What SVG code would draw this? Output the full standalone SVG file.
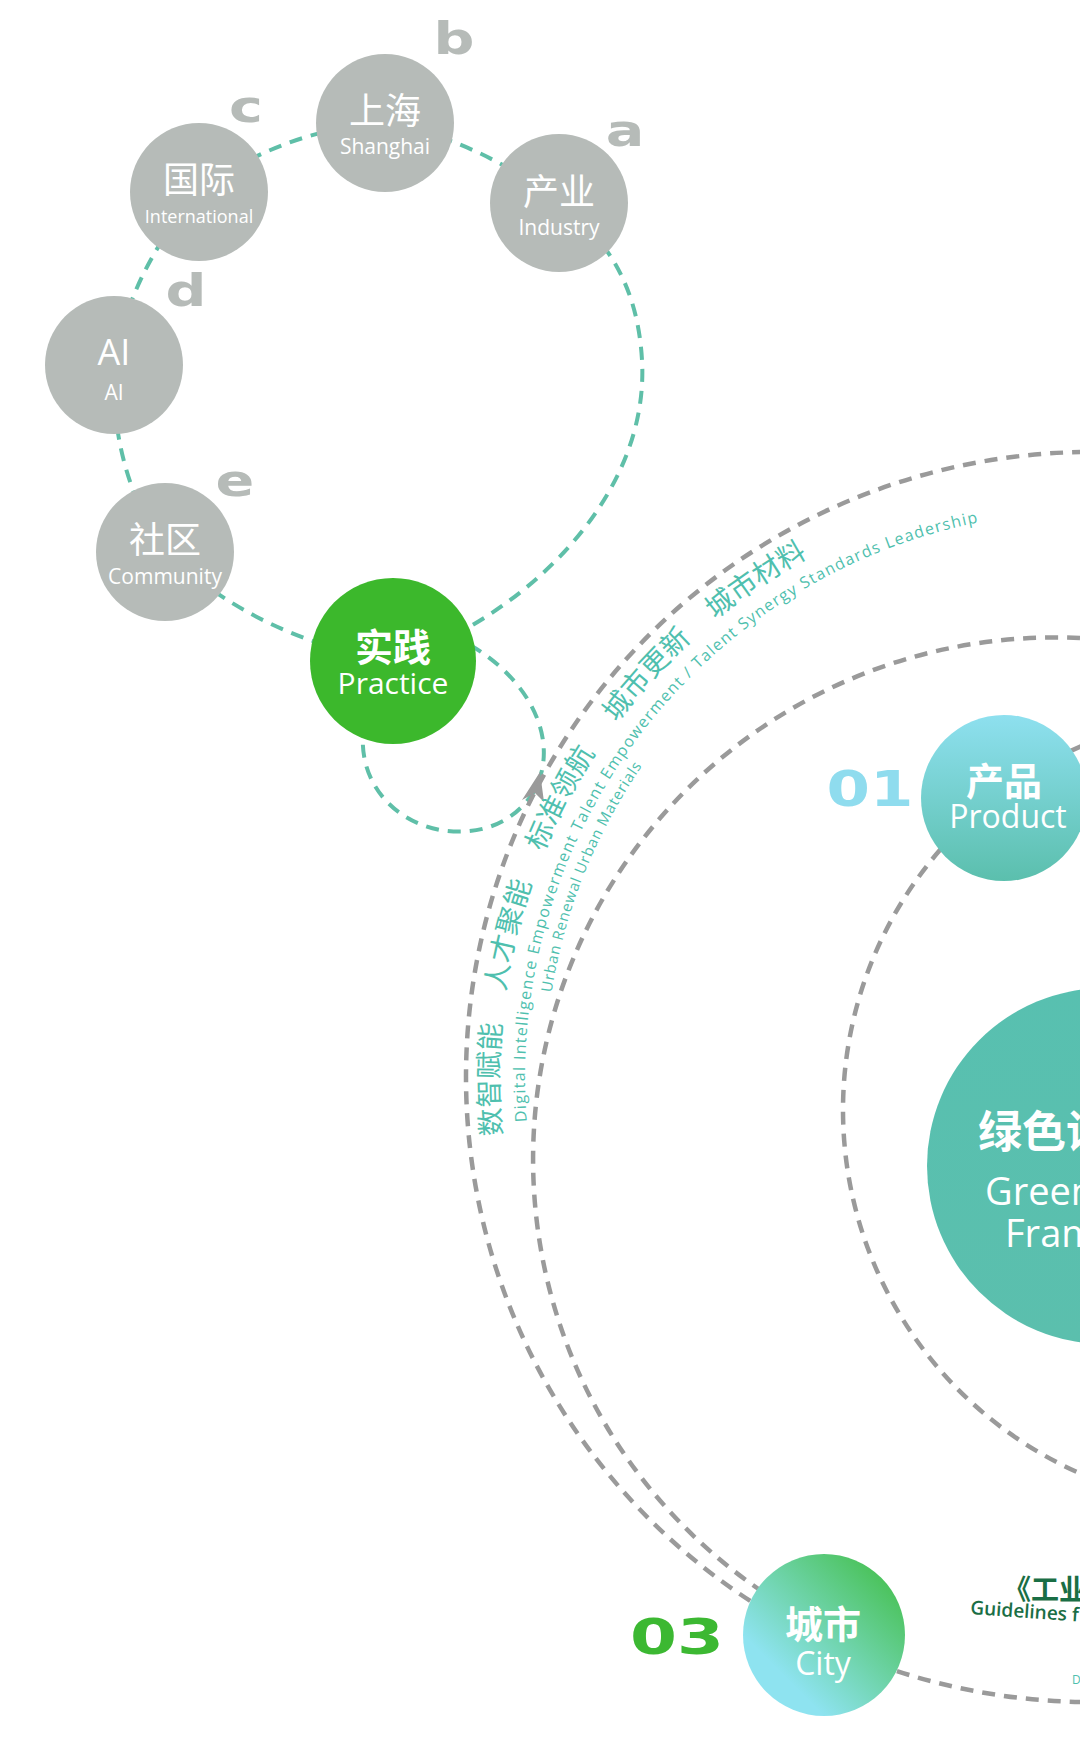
<svg xmlns="http://www.w3.org/2000/svg" width="1080" height="1749" viewBox="0 0 1080 1749">
<defs>
<style>
.gn{fill:#b6bbb8}
.zh{font-family:"Noto Sans CJK SC","Noto Sans",sans-serif;fill:#fff;text-anchor:middle}
.en{font-family:"Open Sans","Noto Sans",sans-serif;fill:#fff;text-anchor:middle}
.lt{font-family:"DejaVu Sans",sans-serif;font-weight:bold;fill:#b6bbb8;font-size:44px;text-anchor:middle}
.td{fill:none;stroke:#5fbfa8;stroke-width:4;stroke-dasharray:13 9}
.gd{fill:none;stroke:#9a9a9a;stroke-width:4.5;stroke-dasharray:13 9}
.arc{fill:#4fbfae}
</style>
<linearGradient id="gP" x1="0" y1="0" x2="0" y2="1"><stop offset="0" stop-color="#8ee0ef"/><stop offset="1" stop-color="#5bbfad"/></linearGradient>
<linearGradient id="gG" x1="0" y1="0" x2="0" y2="1"><stop offset="0" stop-color="#58c0b0"/><stop offset="1" stop-color="#5bbfad"/></linearGradient>
<linearGradient id="gC" x1="1" y1="0" x2="0" y2="1"><stop offset="0" stop-color="#3cbb3a"/><stop offset="0.75" stop-color="#8ee3f0"/><stop offset="1" stop-color="#8ee3f0"/></linearGradient>
<path id="pZh" d="M 1091 1077 m -583.0 102.8 A 592 592 0 0 1 1091 485"/>
<path id="pE1" d="M 1091 1077 m -557.4 98.3 A 566 566 0 0 1 1091 511"/>
<path id="pE2" d="M 1091 1077 m -537.7 94.8 A 546 546 0 0 1 1091 531"/>
</defs>
<rect width="1080" height="1749" fill="#fff"/>
<g id="connectors">
<path class="td" d="M 393 661 C 520 620 650 500 642 360 C 638 290 610 240 559 203 Q 480 140 385 123 Q 280 130 199 192 Q 130 270 114 365 Q 110 470 165 552 Q 260 640 393 661"/>
<path class="td" d="M 470 645 C 530 680 560 740 535 790 C 510 830 470 835 440 830 C 390 820 360 780 363 735"/>
<polygon points="540,772 522,800 535,793 544,802" fill="#9a9a9a"/>
<circle class="gd" cx="1091" cy="1077" r="625"/>
<path class="gd" d="M 1080 638 A 522 522 0 0 0 760 1590"/>
<circle class="gd" cx="1240" cy="1110" r="397"/>
</g>
<g id="arcText">
<text class="arc" font-family="Noto Sans CJK SC,sans-serif" font-size="28" text-anchor="middle"><textPath href="#pZh" startOffset="101">数智赋能</textPath></text>
<text class="arc" font-family="Noto Sans CJK SC,sans-serif" font-size="28" text-anchor="middle"><textPath href="#pZh" startOffset="245">人才聚能</textPath></text>
<text class="arc" font-family="Noto Sans CJK SC,sans-serif" font-size="28" text-anchor="middle"><textPath href="#pZh" startOffset="390">标准领航</textPath></text>
<text class="arc" font-family="Noto Sans CJK SC,sans-serif" font-size="28" text-anchor="middle"><textPath href="#pZh" startOffset="539">城市更新</textPath></text>
<text class="arc" font-family="Noto Sans CJK SC,sans-serif" font-size="28" text-anchor="middle"><textPath href="#pZh" startOffset="682">城市材料</textPath></text>
<text class="arc" font-family="Open Sans,sans-serif" font-size="16"><textPath href="#pE1" startOffset="54" textLength="820" lengthAdjust="spacing">Digital Intelligence Empowerment  Talent Empowerment / Talent Synergy  Standards Leadership</textPath></text>
<text class="arc" font-family="Open Sans,sans-serif" font-size="15"><textPath href="#pE2" startOffset="180" textLength="246" lengthAdjust="spacing">Urban Renewal  Urban Materials</textPath></text>
</g>
<g id="labels">
<text class="lt" x="454" y="54" transform="translate(454 0) scale(1.3 1) translate(-454 0)">b</text>
<text class="lt" x="625" y="146" transform="translate(625 0) scale(1.3 1) translate(-625 0)">a</text>
<text class="lt" x="246" y="122" transform="translate(246 0) scale(1.3 1) translate(-246 0)">c</text>
<text class="lt" x="186" y="306" transform="translate(186 0) scale(1.3 1) translate(-186 0)">d</text>
<text class="lt" x="235" y="496" transform="translate(235 0) scale(1.3 1) translate(-235 0)">e</text>
</g>
<g id="shanghai"><circle class="gn" cx="385" cy="123" r="69"/><text class="zh" x="385" y="124" font-size="36">上海</text><text class="en" x="385" y="154" font-size="21">Shanghai</text></g>
<g id="industry"><circle class="gn" cx="559" cy="203" r="69"/><text class="zh" x="559" y="205" font-size="36">产业</text><text class="en" x="559" y="235" font-size="21">Industry</text></g>
<g id="international"><circle class="gn" cx="199" cy="192" r="69"/><text class="zh" x="199" y="193" font-size="36">国际</text><text class="en" x="199" y="223" font-size="18">International</text></g>
<g id="ai"><circle class="gn" cx="114" cy="365" r="69"/><text class="en" x="114" y="365" font-size="36">AI</text><text class="en" x="114" y="400" font-size="21">AI</text></g>
<g id="community"><circle class="gn" cx="165" cy="552" r="69"/><text class="zh" x="165" y="553" font-size="36">社区</text><text class="en" x="165" y="584" font-size="21">Community</text></g>
<g id="practice"><circle cx="393" cy="661" r="83" fill="#3cb82c"/><text class="zh" x="393" y="661" font-size="38" font-weight="bold">实践</text><text class="en" x="393" y="694" font-size="30">Practice</text></g>
<g id="product"><circle cx="1004" cy="798" r="83" fill="url(#gP)"/><text x="870" y="806" font-family="DejaVu Sans,sans-serif" font-weight="bold" font-size="50" fill="#8fdcee" text-anchor="middle" transform="translate(870 0) scale(1.25 1) translate(-870 0)">01</text><text class="zh" x="1004" y="795" font-size="38" font-weight="bold">产品</text><text class="en" x="1008" y="828" font-size="32">Product</text></g>
<g id="green"><circle cx="1105" cy="1166" r="178" fill="url(#gG)"/><text class="zh" x="978" y="1148" font-size="44" font-weight="bold" style="text-anchor:start">绿色设计</text><text class="en" x="985" y="1205" font-size="38" style="text-anchor:start">Green</text><text class="en" x="1005" y="1247" font-size="38" style="text-anchor:start">Framework</text></g>
<g id="city"><circle cx="824" cy="1635" r="81" fill="url(#gC)"/><text x="677" y="1654" font-family="DejaVu Sans,sans-serif" font-weight="bold" font-size="50" fill="#3cb832" text-anchor="middle" transform="translate(677 0) scale(1.35 1) translate(-677 0)">03</text><text class="zh" x="823" y="1638" font-size="38" font-weight="bold">城市</text><text class="en" x="823" y="1675" font-size="32">City</text></g>
<g id="guide"><text x="1003" y="1600" font-family="Noto Sans CJK SC,sans-serif" font-weight="bold" font-size="28" fill="#1a6e45">《工业</text><text x="970" y="1614" font-family="Open Sans,sans-serif" font-weight="600" font-size="19" fill="#1a6e45" transform="rotate(4 970 1614)">Guidelines f</text><text x="1072" y="1684" font-family="Open Sans,sans-serif" font-size="12" fill="#4fbfae">D</text></g>
</svg>
